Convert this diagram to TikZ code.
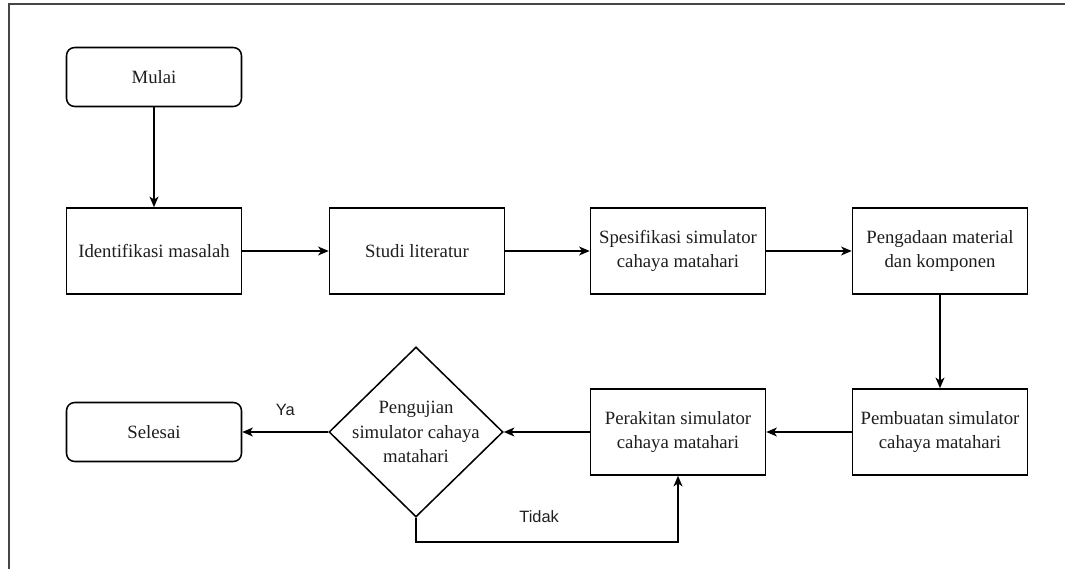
\documentclass[tikz,border=0pt]{standalone}
\usepackage{fontspec}
\setmainfont{Liberation Serif}
\newfontfamily\labelfont{Liberation Sans}
\usetikzlibrary{shapes.geometric,arrows.meta}
\definecolor{framegray}{RGB}{70,70,70}
\definecolor{inkgray}{RGB}{30,30,30}

\begin{document}
\begin{tikzpicture}[x=0.03cm,y=-0.03cm,
    every node/.style={font=\fontsize{16}{21}\selectfont, text=inkgray},
    process/.style={draw, line width=1.3pt, align=center,
      minimum width=5.25cm, minimum height=2.58cm, inner sep=0pt},
    terminal/.style={draw, line width=1.3pt, rounded corners=7pt,
      minimum width=5.25cm, minimum height=1.77cm, inner sep=0pt},
    decision/.style={draw, diamond, line width=1.3pt,
      minimum width=5.22cm, minimum height=5.1cm, inner sep=0pt},
    flow/.style={line width=1.7pt, -{Stealth[length=9pt,width=7.5pt,inset=2.5pt]}},
    answer/.style={font=\labelfont\fontsize{14}{17}\selectfont}]

    \useasboundingbox (0,0) rectangle (1065,569);
    \draw[framegray, line width=1.3pt] (9,569) -- (9,4) -- (1065,4);

    % top row
    \node[terminal] (start) at (154,77) {Mulai};
    \node[process] (ident) at (154,251) {Identifikasi masalah};
    \node[process] (studi) at (417,251) {Studi literatur};
    \node[process] (spek) at (678,251) {Spesifikasi simulator\\cahaya matahari};
    \node[process] (adaan) at (940,251) {Pengadaan material\\dan komponen};

    % bottom row
    \node[process] (buat) at (940,432) {Pembuatan simulator\\cahaya matahari};
    \node[process] (rakit) at (678,432) {Perakitan simulator\\cahaya matahari};
    \node[decision] (test) at (416,432) {};
    \node[align=center] (testtext) at (test) {Pengujian\\simulator cahaya\\matahari};
    \node[terminal] (selesai) at (154,432) {Selesai};

    \draw[flow] (start) -- (ident);
    \draw[flow] (ident) -- (studi);
    \draw[flow] (studi) -- (spek);
    \draw[flow] (spek) -- (adaan);
    \draw[flow] (adaan) -- (buat);
    \draw[flow] (buat) -- (rakit);
    \draw[flow] (rakit) -- (test.east);
    \draw[flow] (test.west) -- node[answer, above=10pt] (ya) {Ya} (selesai);
    \draw[flow] (test.south) -- ++(0,24) -| node[answer, pos=0.235, above=12pt] (tidak) {Tidak} (rakit.south);

\end{tikzpicture}
\end{document}
